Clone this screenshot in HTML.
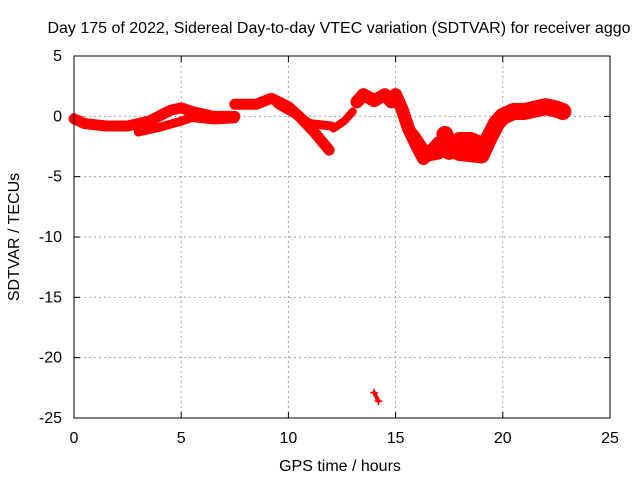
<!DOCTYPE html>
<html><head><meta charset="utf-8"><style>
body{margin:0;background:#fff}
svg{display:block;font-family:"Liberation Sans",sans-serif;font-size:16px}
</style></head><body>
<svg id="chart" width="640" height="480">
<text x="339" y="33" text-anchor="middle">Day 175 of 2022, Sidereal Day-to-day VTEC variation (SDTVAR) for receiver aggo</text>
<text x="340" y="471" text-anchor="middle">GPS time / hours</text>
<text transform="translate(19,237) rotate(-90)" text-anchor="middle">SDTVAR / TECUs</text>
<g id="grid"></g><g id="series"></g>
<rect x="74" y="56" width="536" height="362" fill="none" stroke="#000"/>
</svg>
<script>
const xTicks=[0,5,10,15,20,25];
const yTicks=[5,0,-5,-10,-15,-20,-25];
const track1=[[0,-0.2],[0.5,-0.6],[1.5,-0.8],[2.5,-0.8],[3.5,-0.4],[4.5,0.5],[5,0.7],[5.5,0.4],[6.5,0],[7.5,0]];
const track2=[[3,-1.3],[4,-0.9],[5,-0.4],[5.5,-0.1],[6.5,-0.3],[7.5,-0.2]];
const track3=[[7.5,1],[8.5,1],[9.2,1.5],[10,0.8],[10.5,0],[11.2,-1.3],[11.9,-2.8]];
const track4=[[9.5,1],[10.5,0],[11,-0.6],[12,-0.8]];
const track5=[[12.1,-1],[12.6,-0.4],[13,0.4]];
const track6=[[13.2,1.2],[13.5,1.8],[14,1.3],[14.5,1.8],[14.8,1.2],[15,1.8],[15.3,0.6],[15.6,-1],[16,-2.5],[16.3,-3.5],[16.6,-3],[17,-2.2]];
const track7=[[15.8,-1.6],[16.4,-3.2],[17,-3]];
const track8=[[17.3,-1.5],[17.5,-2.6],[18,-3],[18.5,-3.1],[19,-3.2],[19.3,-2],[19.7,-0.6],[20,0],[20.5,0.4],[21,0.4],[22,0.8],[22.5,0.6],[22.8,0.4]];
const track9=[[17.5,-2.9],[18,-2],[18.5,-2],[19,-2.4]];
const track10=[[14,-22.9],[14.2,-23.6]];
const tracks=[track1,track2,track3,track4,track5,track6,track7,track8,track9,track10];
const widths=[11,9,11,9,8,13,14,17,17,4];
const X=h=>74+h*536/25, Y=v=>56+(5-v)*362/30;
const ns="http://www.w3.org/2000/svg";
const grid=document.getElementById('grid'),ser=document.getElementById('series');
function mk(t,a,p){const e=document.createElementNS(ns,t);for(const k in a)e.setAttribute(k,a[k]);p.appendChild(e);return e;}
xTicks.forEach(t=>{
 if(t>0&&t<25){const l=mk('line',{x1:X(t),x2:X(t),y1:56,y2:418,stroke:'#a0a0a0','stroke-dasharray':'2,3'},grid);
 
 }
 mk('line',{x1:X(t),x2:X(t),y1:418,y2:412,stroke:'#000'},grid);
 mk('line',{x1:X(t),x2:X(t),y1:56,y2:62,stroke:'#000'},grid);
 const tx=mk('text',{x:X(t),y:443,'text-anchor':'middle'},grid);tx.textContent=t;
 
 
});
yTicks.forEach(t=>{
 if(t<5&&t>-25){const l=mk('line',{x1:74,x2:610,y1:Y(t),y2:Y(t),stroke:'#a0a0a0','stroke-dasharray':'2,3'},grid);
 
 }
 mk('line',{x1:74,x2:80,y1:Y(t),y2:Y(t),stroke:'#000'},grid);
 mk('line',{x1:610,x2:604,y1:Y(t),y2:Y(t),stroke:'#000'},grid);
 const tx=mk('text',{x:62,y:Y(t)+5,'text-anchor':'end'},grid);tx.textContent=t;
 
 
});
tracks.forEach((tr,i)=>{
 const pts=tr.map(p=>X(p[0])+','+Y(p[1])).join(' ');
 const pl=mk('polyline',{points:pts,fill:'none',stroke:'#ff0000','stroke-width':widths[i],'stroke-linejoin':'round','stroke-linecap':'round'},ser);
 
 
 tr.forEach(p=>{
  const g=mk('path',{d:`M${X(p[0])-4},${Y(p[1])}h8M${X(p[0])},${Y(p[1])-4}v8`,stroke:'#ff0000','stroke-width':1.5},ser);
  
  
 });
});
</script>
</body></html>
